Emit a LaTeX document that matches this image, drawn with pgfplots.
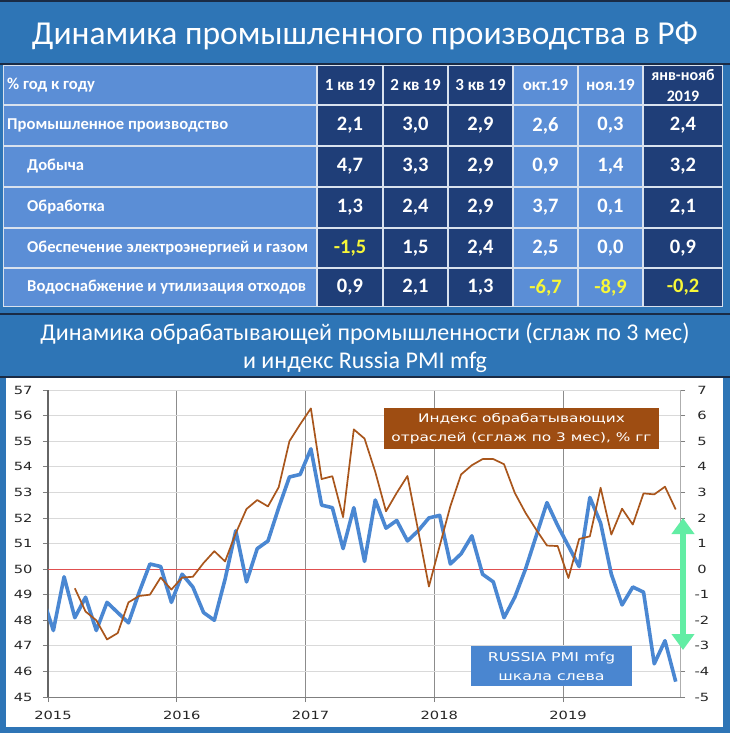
\documentclass[border=0pt]{standalone}
\usepackage{fontspec}
\setmainfont{Carlito}
\newfontfamily\vfont{DejaVu Sans}[FakeStretch=1.3]
\usepackage{pgfplots}
\pgfplotsset{compat=1.18}
\usetikzlibrary{arrows.meta}

\definecolor{frameblue}{HTML}{2E75B6}
\definecolor{darkline}{HTML}{1A2B45}
\definecolor{lightcell}{HTML}{5B8ED6}
\definecolor{darkcell}{HTML}{1F3E78}
\definecolor{sepline}{HTML}{D9E2EE}
\definecolor{yel}{HTML}{F7F738}
\definecolor{pmiblue}{HTML}{4A87D2}
\definecolor{brownline}{HTML}{A9561C}
\definecolor{brownbox}{HTML}{9E4D12}
\definecolor{boxblue}{HTML}{4A86D0}
\definecolor{arrowgreen}{HTML}{62EDA4}
\definecolor{redline}{HTML}{E05050}
\definecolor{gridh}{HTML}{D9D9D9}
\definecolor{gridv}{HTML}{8C8C8C}
\definecolor{axisgray}{HTML}{7F7F7F}
\definecolor{tickblack}{HTML}{262626}

\newcommand\fs[2]{\fontsize{#1bp}{#2bp}\selectfont}

% one table row: y centre, label x, label, six values
\newcommand\tabrow[9]{%
  \node[anchor=west, lbl] at (#2,-#1) {#3};
  \node[num] at (350,-#1) {#4};
  \node[num] at (415.5,-#1) {#5};
  \node[num] at (480.5,-#1) {#6};
  \node[num] at (545.5,-#1) {#7};
  \node[num] at (610.5,-#1) {#8};
  \node[num] at (683,-#1) {#9};
}

\begin{document}
\begin{tikzpicture}
\begin{scope}[x=1bp,y=1bp,
  hdr/.style={text=white, font=\bfseries\fs{17}{19}, inner sep=0pt},
  lbl/.style={text=white, font=\bfseries\fs{16.6}{19}, inner sep=0pt},
  num/.style={text=white, font=\bfseries\fs{20.5}{22}, inner sep=0pt}]
\useasboundingbox (0,0) rectangle (730,-733);
\fill[frameblue] (0,0) rectangle (730,-733);
\fill[darkline] (0,0) rectangle (730,-2);

% title
\node[text=white, font=\fs{33.5}{40}] at (365,-36) {Динамика промышленного производства в РФ};
\fill[darkline] (0,-63) rectangle (730,-65);

% table cells
\fill[sepline] (3,-65) rectangle (723,-307);
\foreach \ya/\yb in {65/105,105/146,146/187,187/228,228/268,268/307}{
  \foreach \xa/\xb/\cc in {3/317/lightcell,317/383/darkcell,383/448/darkcell,
      448/513/darkcell,513/578/lightcell,578/643/lightcell,643/723/darkcell}{
    \fill[\cc] (\xa+0.8,-\ya-0.8) rectangle (\xb-0.8,-\yb+0.8);
  }
}

% table header
\node[anchor=west, lbl] at (7,-85) {\% год к году};
\node[hdr] at (350,-85) {1 кв 19};
\node[hdr] at (415.5,-85) {2 кв 19};
\node[hdr] at (480.5,-85) {3 кв 19};
\node[hdr] at (545.5,-85) {окт.19};
\node[hdr] at (610.5,-85) {ноя.19};
\node[hdr, align=center, font=\bfseries\fs{16}{20.5}] at (683,-85.5) {янв-нояб\\2019};

% table body
\tabrow{125.5}{7}{Промышленное производство}{2,1}{3,0}{2,9}{2,6}{0,3}{2,4}
\tabrow{166.5}{27}{Добыча}{4,7}{3,3}{2,9}{0,9}{1,4}{3,2}
\tabrow{207.5}{27}{Обработка}{1,3}{2,4}{2,9}{3,7}{0,1}{2,1}
\tabrow{248}{27}{Обеспечение электроэнергией и газом}{\color{yel}-1,5}{1,5}{2,4}{2,5}{0,0}{0,9}
\tabrow{287.5}{27}{Водоснабжение и утилизация отходов}{0,9}{2,1}{1,3}{\color{yel}-6,7}{\color{yel}-8,9}{\color{yel}-0,2}

% subtitle
\fill[darkline] (0,-313) rectangle (730,-315);
\node[text=white, font=\fs{24}{29}] at (365,-334) {Динамика обрабатывающей промышленности (сглаж по 3 мес)};
\node[text=white, font=\fs{24}{29}] at (365,-362) {и индекс Russia PMI mfg};
\fill[darkline] (0,-376) rectangle (730,-378);
\fill[white] (6,-378) rectangle (723,-727);
\end{scope}

% chart: left axis, PMI
\begin{axis}[
  at={(48bp,-697bp)}, anchor=south west,
  scale only axis, width=632bp, height=307bp,
  xmin=-0.5, xmax=58.4, ymin=45, ymax=57,
  xtick={-0.5,11.5,23.5,35.5,47.5},
  xticklabels={2015,2016,2017,2018,2019},
  ytick={45,46,...,57},
  axis x line*=bottom, axis y line*=left,
  xmajorgrids, ymajorgrids,
  major x grid style={color=gridv, line width=0.8bp},
  major y grid style={color=gridh, line width=0.8bp},
  tick align=outside, major tick length=5bp,
  tick style={color=axisgray, line width=0.8bp},
  x axis line style={color=axisgray, line width=0.8bp, -},
  y axis line style={color=axisgray!80!black, line width=1.3bp, -},
  tick label style={font=\vfont\fs{11.3}{13}, text=tickblack},
  xticklabel style={xshift=5bp, yshift=-6bp},
  yticklabel style={xshift=-7bp},
  /pgf/number format/assume math mode=true,
]
\addplot[redline, line width=0.8bp] coordinates {(-0.5,50) (58.4,50)};
\addplot[pmiblue, line width=3.6bp, line join=round] coordinates {
  (-1,48.9) (0,47.6) (1,49.7) (2,48.1) (3,48.9) (4,47.6) (5,48.7) (6,48.3)
  (7,47.9) (8,49.1) (9,50.2) (10,50.1) (11,48.7)
  (12,49.8) (13,49.3) (14,48.3) (15,48.0) (16,49.6) (17,51.5) (18,49.5)
  (19,50.8) (20,51.1) (21,52.4) (22,53.6) (23,53.7)
  (24,54.7) (25,52.5) (26,52.4) (27,50.8) (28,52.4) (29,50.3) (30,52.7)
  (31,51.6) (32,51.9) (33,51.1) (34,51.5) (35,52.0)
  (36,52.1) (37,50.2) (38,50.6) (39,51.3) (40,49.8) (41,49.5) (42,48.1)
  (43,48.9) (44,50.0) (45,51.3) (46,52.6) (47,51.7)
  (48,50.9) (49,50.1) (50,52.8) (51,51.8) (52,49.8) (53,48.6) (54,49.3)
  (55,49.1) (56,46.3) (57,47.2) (58,45.6)
};
\end{axis}

% chart: right axis, manufacturing index
\begin{axis}[
  at={(48bp,-697bp)}, anchor=south west,
  scale only axis, width=632bp, height=307bp,
  xmin=-0.5, xmax=58.4, ymin=-5, ymax=7,
  axis x line=none, axis y line*=right,
  ytick={-5,-4,...,7},
  tick align=outside, major tick length=5bp,
  tick style={color=axisgray, line width=0.8bp},
  y axis line style={color=gridh!80!black, line width=0.8bp, -},
  tick label style={font=\vfont\fs{11.3}{13}, text=tickblack},
  yticklabel style={anchor=center, xshift=17bp},
  /pgf/number format/assume math mode=true,
]
\addplot[brownline, line width=1.7bp, line join=round] coordinates {
  (2,-0.75) (3,-1.66) (4,-2.0) (5,-2.75) (6,-2.5) (7,-1.3) (8,-1.05)
  (9,-1.0) (10,-0.33) (11,-0.8)
  (12,-0.33) (13,-0.3) (14,0.24) (15,0.7) (16,0.3) (17,1.4) (18,2.35)
  (19,2.7) (20,2.45) (21,3.2) (22,5.0) (23,5.66)
  (24,6.28) (25,3.52) (26,3.63) (27,2.03) (28,5.46) (29,5.1) (30,3.8)
  (31,2.26) (32,2.98) (33,3.64) (34,1.5) (35,-0.68)
  (36,0.9) (37,2.46) (38,3.7) (39,4.06) (40,4.3) (41,4.3) (42,4.1)
  (43,2.98) (44,2.2) (45,1.54) (46,0.92) (47,0.9)
  (48,-0.35) (49,1.18) (50,1.28) (51,3.18) (52,1.35) (53,2.36) (54,1.74)
  (55,2.96) (56,2.92) (57,3.22) (58,2.33)
};
\end{axis}

% annotations
\begin{scope}[x=1bp,y=1bp]
\fill[brownbox] (384,-408) rectangle (659,-449);
\node[text=white, font=\vfont\fs{11.8}{19}, align=center] at (521.5,-428.5)
  {Индекс обрабатывающих\\отраслей (сглаж по 3 мес), \% гг};
\fill[boxblue] (471,-646) rectangle (632,-686);
\node[text=white, font=\vfont\fs{12.2}{19}, align=center] at (551.5,-666)
  {RUSSIA PMI mfg\\шкала слева};
\draw[arrowgreen, line width=6bp,
  {Triangle[width=22bp,length=16bp]}-{Triangle[width=22bp,length=16bp]}]
  (683,-518) -- (683,-650);
\end{scope}
\end{tikzpicture}
\end{document}
